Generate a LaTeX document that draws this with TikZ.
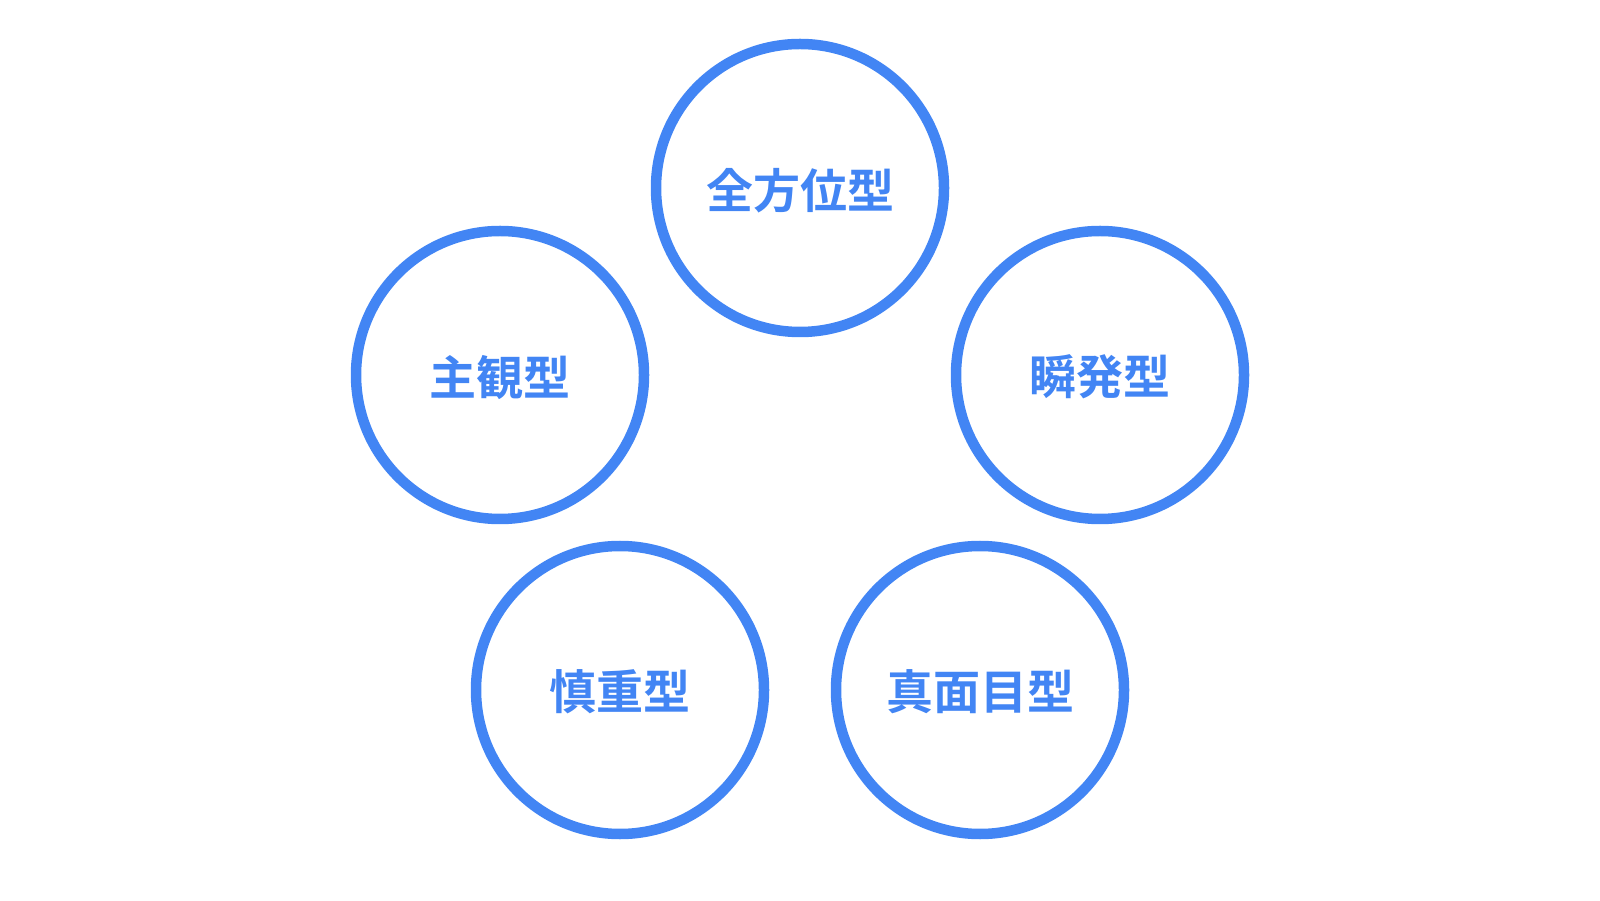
\documentclass[tikz,border=0pt]{standalone}
\usepackage{fontspec}
\newfontfamily\cjk{Noto Sans CJK JP}[BoldFont={Noto Sans CJK JP Bold}]
\definecolor{gblue}{RGB}{66,133,244}
\begin{document}
\begin{tikzpicture}[x=1pt,y=1pt,
  typecircle/.style={circle,draw=gblue,line width=10.5pt,minimum size=288pt,inner sep=0pt,
    text=gblue,font=\cjk\bfseries\fontsize{47}{56}\selectfont,text depth=0pt}]
\useasboundingbox (0,0) rectangle (1600,900);
\node[typecircle] (top) at (800,712) {全方位型};
\node[typecircle] (left) at (500,525) {主観型};
\node[typecircle] (right) at (1100,525) {瞬発型};
\node[typecircle] (bl) at (620,210) {慎重型};
\node[typecircle] (br) at (980,210) {真面目型};
\end{tikzpicture}
\end{document}
